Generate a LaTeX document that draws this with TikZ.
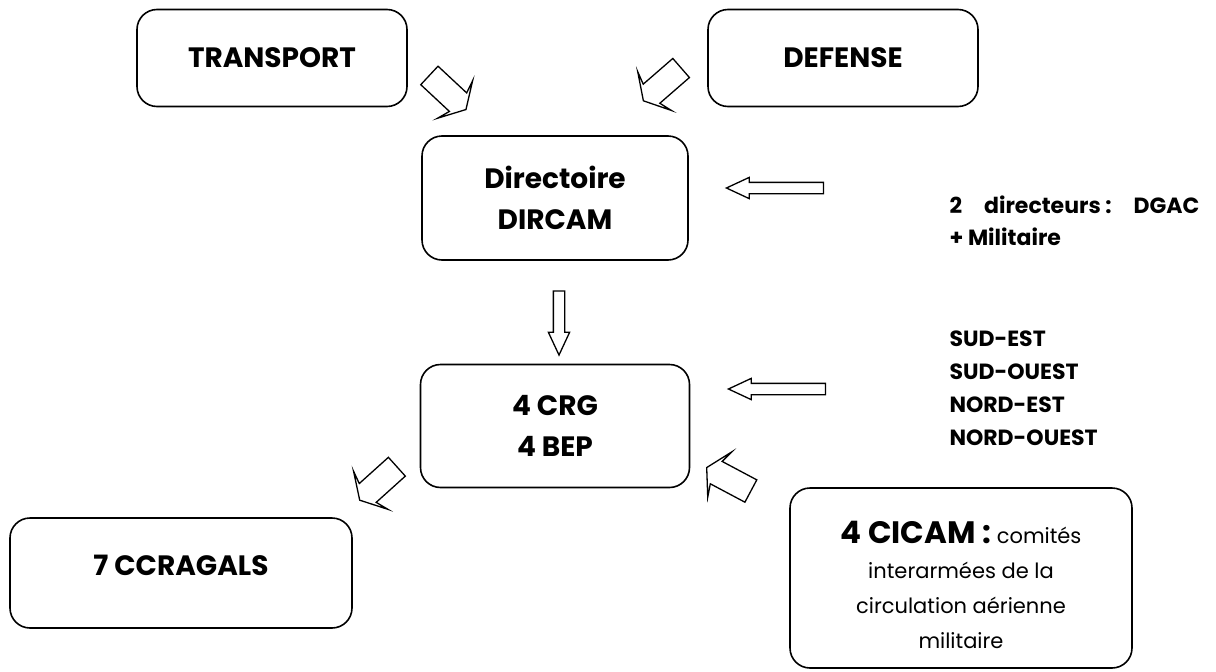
\documentclass[tikz,border=0pt]{standalone}
\usepackage{fontspec}
\setmainfont{Poppins}
\usetikzlibrary{shapes.arrows}
\usetikzlibrary{positioning}

\tikzset{
  box/.style={draw=black,line width=1.6pt,rounded corners=20pt,align=center},
  boxtext/.style={align=center,font=\bfseries\fontsize{28}{41}\selectfont},
  sidetext/.style={anchor=west,align=left,font=\bfseries\fontsize{22}{32}\selectfont},
  blockarrow/.style={single arrow,draw=black,line width=1.3pt,fill=white,inner xsep=0pt,minimum width=0pt},
  fatarrow/.style={blockarrow,inner ysep=12pt,single arrow head extend=13pt,minimum height=50pt,single arrow tip angle=120,single arrow head indent=4pt},
  thinarrow/.style={blockarrow,inner ysep=5pt,single arrow head extend=5pt,single arrow tip angle=50}
}

\begin{document}
\begin{tikzpicture}[x=1pt,y=-1pt]
  \useasboundingbox (0,0) rectangle (1216,672);

  % boites
  \begin{scope}[every node/.style={box}]
    \node[minimum width=270pt,minimum height=97pt] (transport) at (272,58) {};
    \node[minimum width=270pt,minimum height=97pt] (defense) at (843,58) {};
    \node[minimum width=266pt,minimum height=124pt] (dircam) at (555,198) {};
    \node[minimum width=269pt,minimum height=123pt] (crg) at (555,426) {};
    \node[minimum width=342pt,minimum height=110pt] (ccragals) at (181,573) {};
    \node[minimum width=342pt,minimum height=180pt] (cicam) at (961,578) {};
  \end{scope}

  % textes des boites
  \node[boxtext] (ttransport) at (transport.center) {TRANSPORT};
  \node[boxtext] (tdefense) at (defense.center) {DEFENSE};
  \node[boxtext] (tdircam) at (dircam.center) {Directoire\\DIRCAM};
  \node[boxtext] (tcrg) at (crg.center) {4 CRG\\4 BEP};
  \node[boxtext] (tccragals) at ([yshift=8pt]ccragals.center) {7 CCRAGALS};
  \node[align=center,font=\fontsize{21}{35}\selectfont] (tcicam) at ([yshift=-7pt]cicam.center)
    {{\bfseries\fontsize{31}{35}\selectfont 4 CICAM :} comités\\interarmées de la\\circulation aérienne\\militaire};

  % textes a droite
  \node[sidetext] (directeurs) at (946,221) {2\hspace{22pt}directeurs :\hspace{22pt}DGAC\\+ Militaire};
  \node[sidetext,font=\bfseries\fontsize{22}{33}\selectfont] (regions) at (946,388) {SUD-EST\\SUD-OUEST\\NORD-EST\\NORD-OUEST};

  % fleches
  \node[fatarrow,rotate=-43] (a1) at (445,90) {};
  \node[fatarrow,rotate=-139] (a2) at (665,82) {};
  \node[fatarrow,rotate=-138] (a3) at (381,481) {};
  \node[fatarrow,rotate=152] (a4) at (732,481) {};
  \node[thinarrow,minimum height=64pt,rotate=-90] (a5) at (559,317) {};
  \node[thinarrow,minimum height=97pt,rotate=180] (a6) at (781,188) {};
  \node[thinarrow,minimum height=97pt,rotate=180] (a7) at (783,389) {};
\end{tikzpicture}
\end{document}
